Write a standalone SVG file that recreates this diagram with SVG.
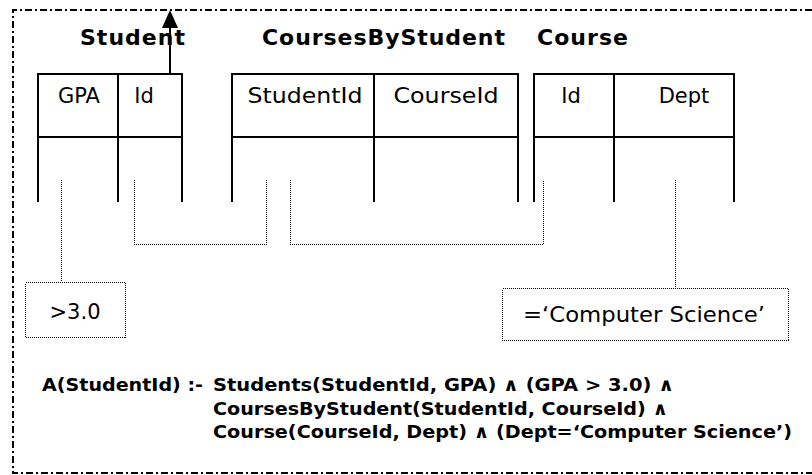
<svg xmlns="http://www.w3.org/2000/svg" width="812" height="475" viewBox="0 0 812 475">
  <style>
    .frame { fill: none; stroke: #000; stroke-width: 2; stroke-dasharray: 7 3 2 3; }
    .tbl { fill: none; stroke: #000; stroke-width: 2; }
    .dot { fill: none; stroke: #000; stroke-width: 1; stroke-dasharray: 1 1; shape-rendering: crispEdges; }
    .title { font-family: "DejaVu Sans", Verdana, sans-serif; font-weight: bold; font-size: 22px; fill: #000; }
    .col { font-family: "DejaVu Sans", Verdana, sans-serif; font-size: 21px; fill: #000; text-anchor: middle; }
    .cond { font-family: "DejaVu Sans", Verdana, sans-serif; font-size: 21px; fill: #000; text-anchor: middle; }
    .rule { font-family: "DejaVu Sans", Verdana, sans-serif; font-weight: bold; font-size: 18px; fill: #000; }
  </style>

  <!-- outer frame: top, left, bottom -->
  <path class="frame" d="M812 10 H13 V473 H812"/>

  <!-- Student relation -->
  <g id="student">
    <text class="title" x="80" y="45" textLength="105" lengthAdjust="spacing">Student</text>
    <path class="tbl" d="M38 202 V74 H182 V202 M118 74 V202 M38 137 H182"/>
    <text class="col" x="79" y="103">GPA</text>
    <text class="col" x="144" y="103">Id</text>
  </g>

  <!-- CoursesByStudent relation -->
  <g id="courses-by-student">
    <text class="title" x="262" y="45" textLength="243" lengthAdjust="spacing">CoursesByStudent</text>
    <path class="tbl" d="M232 202 V74 H518 V202 M374 74 V202 M232 137 H518"/>
    <text class="col" x="305" y="103" textLength="115" lengthAdjust="spacingAndGlyphs">StudentId</text>
    <text class="col" x="446" y="103" textLength="105" lengthAdjust="spacingAndGlyphs">CourseId</text>
  </g>

  <!-- Course relation -->
  <g id="course">
    <text class="title" x="537" y="45" textLength="91" lengthAdjust="spacing">Course</text>
    <path class="tbl" d="M534 202 V74 H734 V202 M614 74 V202 M534 137 H734"/>
    <text class="col" x="571" y="103">Id</text>
    <text class="col" x="684" y="103">Dept</text>
  </g>

  <!-- selection conditions -->
  <g id="cond-gpa">
    <rect class="dot" x="25.5" y="282.5" width="100" height="55"/>
    <text class="cond" x="75" y="319">&gt;3.0</text>
  </g>
  <g id="cond-dept">
    <rect class="dot" x="502.5" y="288.5" width="286" height="52"/>
    <text class="cond" x="644" y="322" textLength="242" lengthAdjust="spacingAndGlyphs">=‘Computer Science’</text>
  </g>

  <!-- connectors -->
  <g id="connectors">
    <line class="tbl" x1="170" y1="74" x2="170" y2="26"/>
    <polygon points="170,10 162,28 178,28" fill="#000"/>
    <path class="dot" d="M61.5 180 V282"/>
    <path class="dot" d="M134.5 180 V244.5 H266.5 V180"/>
    <path class="dot" d="M290.5 180 V244.5 H543.5 V180"/>
    <path class="dot" d="M675.5 180 V288"/>
  </g>

  <!-- Datalog rule -->
  <g id="rule">
    <text class="rule" x="42" y="391" textLength="161" lengthAdjust="spacingAndGlyphs">A(StudentId) :-</text>
    <text class="rule" x="213" y="391" textLength="461" lengthAdjust="spacingAndGlyphs">Students(StudentId, GPA) ∧ (GPA &gt; 3.0) ∧</text>
    <text class="rule" x="213" y="415" textLength="455" lengthAdjust="spacingAndGlyphs">CoursesByStudent(StudentId, CourseId) ∧</text>
    <text class="rule" x="213" y="438" textLength="579" lengthAdjust="spacingAndGlyphs">Course(CourseId, Dept) ∧ (Dept=‘Computer Science’)</text>
  </g>
</svg>
